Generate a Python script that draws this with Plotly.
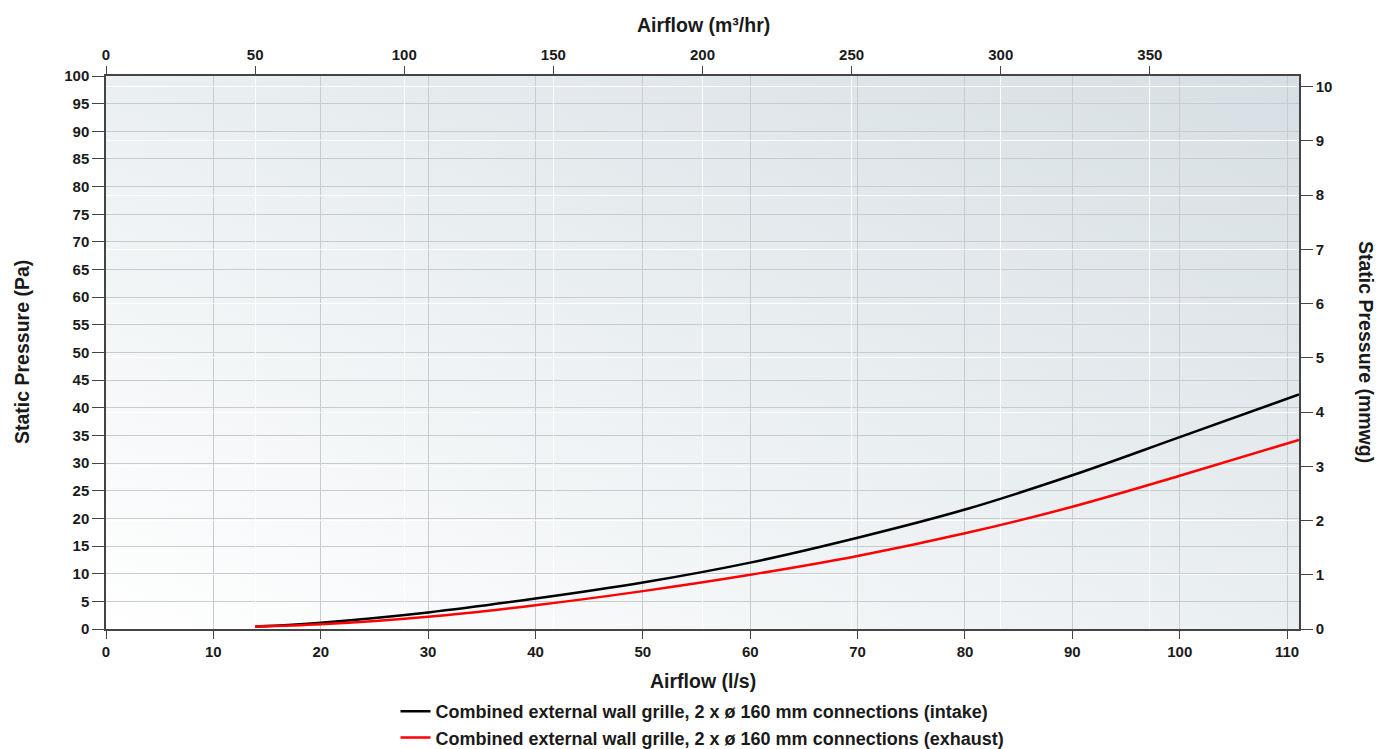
import base64
import plotly.graph_objects as go

# ---- data ----
airflow_ls = [13.9, 20, 30, 40, 50, 60, 70, 80, 90, 100, 111.11]
intake_pa = [0.45, 1.15, 3.0, 5.5, 8.4, 12.0, 16.5, 21.6, 27.8, 34.7, 42.4]
exhaust_pa = [0.45, 0.85, 2.2, 4.3, 6.85, 9.8, 13.2, 17.3, 22.1, 27.7, 34.2]
series_names = [
    "Combined external wall grille, 2 x ø 160 mm connections (intake)",
    "Combined external wall grille, 2 x ø 160 mm connections (exhaust)",
]
bottom_ticks = [0, 10, 20, 30, 40, 50, 60, 70, 80, 90, 100, 110]
top_ticks = [0, 50, 100, 150, 200, 250, 300, 350]
left_ticks = list(range(0, 101, 5))
right_ticks = [0, 1, 2, 3, 4, 5, 6, 7, 8, 9, 10]
x_max_ls = 111.11
x_max_m3h = 400
y_max_pa = 100
pa_per_mmwg = 9.80665

FONT = "Liberation Sans, Arial, sans-serif"
TXT = "#1a1a1a"

W, H = 1376, 749
L, R, T, B = 106, 77, 76, 120

fig = go.Figure()
fig.add_trace(go.Scatter(x=airflow_ls, y=intake_pa, mode="lines", name="<b>" + series_names[0] + "</b>",
                         line=dict(color="#000000", width=2.5, shape="spline")))
fig.add_trace(go.Scatter(x=airflow_ls, y=exhaust_pa, mode="lines", name="<b>" + series_names[1] + "</b>",
                         line=dict(color="#ff0000", width=2.5, shape="spline")))
# invisible trace to activate secondary axes
fig.add_trace(go.Scatter(x=[0], y=[0], xaxis="x2", yaxis="y2", mode="markers",
                         marker=dict(opacity=0), showlegend=False, hoverinfo="skip"))

svg = ('<svg xmlns="http://www.w3.org/2000/svg" width="100" height="100" preserveAspectRatio="none">'
       '<defs><linearGradient id="g" x1="0" y1="1" x2="1" y2="0">'
       '<stop offset="0" stop-color="#ffffff"/><stop offset="1" stop-color="#d6dfe3"/>'
       '</linearGradient></defs><rect width="100" height="100" fill="url(#g)"/></svg>')
src = "data:image/svg+xml;base64," + base64.b64encode(svg.encode()).decode()

tickfont = dict(family=FONT, size=15, color=TXT)
axis_common = dict(showline=True, linecolor="#444444", linewidth=1.5, ticks="outside",
                   tickcolor="#444444", tickfont=tickfont, zeroline=False, mirror=False,
                   tickmode="array")

def labels(vals):
    return ["<b>%g</b>" % v for v in vals]

fig.update_layout(
    width=W, height=H,
    margin=dict(l=L, r=R, t=T, b=B, pad=0, autoexpand=False),
    paper_bgcolor="white", plot_bgcolor="rgba(0,0,0,0)",
    font=dict(family=FONT, color=TXT),
    images=[dict(source=src, xref="x", yref="y", x=0, y=y_max_pa, sizex=x_max_ls, sizey=y_max_pa,
                 sizing="stretch", layer="below", xanchor="left", yanchor="top")],
    xaxis=dict(range=[0, x_max_ls], tickvals=bottom_ticks, ticktext=labels(bottom_ticks),
               gridcolor="#c9cccf", gridwidth=1.2, ticklen=8, **axis_common),
    xaxis2=dict(range=[0, x_max_m3h], tickvals=top_ticks, ticktext=labels(top_ticks),
                overlaying="x", side="top", gridcolor="#ffffff", gridwidth=1.2, ticklen=8,
                **axis_common),
    yaxis=dict(range=[0, y_max_pa], tickvals=left_ticks, ticktext=labels(left_ticks),
               gridcolor="#c9cccf", gridwidth=1.2, ticklen=12, **axis_common),
    yaxis2=dict(range=[0, y_max_pa / pa_per_mmwg], tickvals=right_ticks, ticktext=labels(right_ticks),
                overlaying="y", side="right", gridcolor="#ffffff", gridwidth=1.2, ticklen=12,
                **axis_common),
    legend=dict(x=0.5, xanchor="center", y=-0.1156, yanchor="top", orientation="v",
                font=dict(family=FONT, size=18, color=TXT), bgcolor="rgba(0,0,0,0)",
                tracegroupgap=0, itemwidth=30),
    showlegend=True,
)

pw = W - L - R
ph = H - T - B
def px(xp):
    return (xp - L) / pw
def py(yp):
    return (H - B - yp) / ph

title_font = dict(family=FONT, size=19.5, color=TXT)
fig.add_annotation(text="<b>Airflow (m³/hr)</b>", xref="paper", yref="paper", x=px(703), y=py(25),
                   showarrow=False, font=title_font, xanchor="center", yanchor="middle")
fig.add_annotation(text="<b>Airflow (l/s)</b>", xref="paper", yref="paper", x=px(703), y=py(681),
                   showarrow=False, font=title_font, xanchor="center", yanchor="middle")
fig.add_annotation(text="<b>Static Pressure (Pa)</b>", xref="paper", yref="paper", x=px(22), y=py(352),
                   showarrow=False, font=title_font, textangle=-90, xanchor="center", yanchor="middle")
fig.add_annotation(text="<b>Static Pressure (mmwg)</b>", xref="paper", yref="paper", x=px(1366), y=py(352),
                   showarrow=False, font=title_font, textangle=90, xanchor="center", yanchor="middle")

fig.write_html("out.html", config={"displayModeBar": False},
               post_script="document.body.style.margin='0';document.body.style.overflow='hidden';")
